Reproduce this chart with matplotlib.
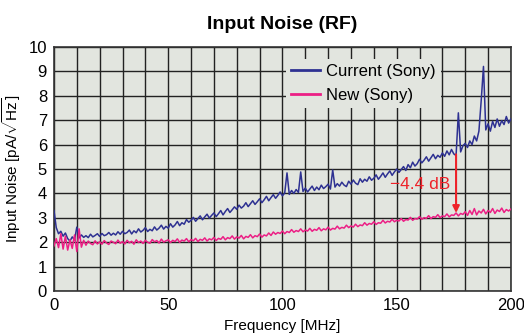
import numpy as np
import matplotlib
matplotlib.use("Agg")
import matplotlib.pyplot as plt

plt.rcParams['font.family'] = ['Liberation Sans', 'DejaVu Sans']
plt.rcParams['mathtext.fontset'] = 'custom'
plt.rcParams['mathtext.rm'] = 'Liberation Sans'

# frequency grid, 1 MHz steps (0..200)
freq = np.arange(0, 201)

current = [
    3.30, 2.60, 2.35, 2.45, 2.25, 2.38, 2.15, 2.05, 2.22, 2.10,
    2.62, 2.18, 2.30, 2.20, 2.27, 2.19, 2.33, 2.22, 2.28, 2.35,
    2.24, 2.36, 2.27, 2.31, 2.40, 2.29, 2.37, 2.30, 2.43, 2.33,
    2.45, 2.35, 2.40, 2.50, 2.34, 2.47, 2.39, 2.55, 2.42, 2.49,
    2.60, 2.44, 2.53, 2.47, 2.63, 2.50, 2.58, 2.70, 2.54, 2.65,
    2.58, 2.76, 2.62, 2.71, 2.85, 2.68, 2.80, 2.74, 2.93, 2.82,
    2.90, 3.02, 2.86, 2.97, 3.08, 2.92, 3.04, 3.15, 2.99, 3.10,
    3.20, 3.05, 3.17, 3.30, 3.12, 3.26, 3.38, 3.22, 3.33, 3.45,
    3.35, 3.52, 3.40, 3.48, 3.62, 3.46, 3.58, 3.70, 3.55, 3.66,
    3.78, 3.62, 3.74, 3.88, 3.70, 3.83, 3.95, 3.80, 3.92, 4.06,
    3.90, 4.02, 4.84, 3.96, 4.12, 4.00, 4.16, 4.04, 4.88, 4.08,
    4.22, 4.06, 4.18, 4.30, 4.12, 4.26, 4.15, 4.34, 4.20, 4.28,
    4.38, 4.18, 4.96, 4.26, 4.40, 4.30, 4.46, 4.34, 4.28, 4.50,
    4.38, 4.55, 4.42, 4.36, 4.60, 4.46, 4.58, 4.50, 4.68, 4.54,
    4.62, 4.76, 4.58, 4.70, 4.84, 4.66, 4.80, 4.92, 4.74, 4.88,
    5.00, 4.86, 4.98, 5.10, 4.94, 5.18, 5.05, 5.28, 5.12, 5.22,
    5.40, 5.25, 5.36, 5.50, 5.32, 5.46, 5.60, 5.42, 5.56, 5.48,
    5.66, 5.52, 5.74, 5.58, 5.80, 5.62, 5.55, 7.30, 5.70, 5.95,
    6.05, 5.88, 6.15, 6.00, 6.35, 6.15, 6.55, 7.80, 9.20, 6.60,
    6.85, 6.55, 6.95, 6.70, 7.05, 6.75, 6.98, 6.82, 7.15, 6.88,
    7.05,
]

new = [
    1.85, 2.15, 1.78, 2.35, 1.72, 2.25, 1.68, 2.10, 1.75, 2.30,
    1.62, 2.55, 1.80, 2.08, 1.88, 2.05, 1.95, 1.90, 2.06, 1.93,
    2.02, 1.92, 2.07, 1.97, 1.91, 2.05, 2.00, 1.94, 2.09, 1.96,
    2.03, 1.93, 2.08, 1.98, 2.04, 1.92, 2.10, 1.99, 2.05, 1.95,
    2.08, 2.00, 1.96, 2.11, 2.02, 2.07, 1.97, 2.13, 2.01, 2.06,
    2.10, 1.99, 2.08, 2.03, 2.14, 2.00, 2.09, 2.05, 2.15, 2.02,
    2.11, 2.06, 2.16, 2.03, 2.12, 2.08, 2.18, 2.05, 2.14, 2.10,
    2.20, 2.07, 2.16, 2.12, 2.23, 2.10, 2.19, 2.15, 2.26, 2.13,
    2.22, 2.17, 2.28, 2.14, 2.24, 2.20, 2.31, 2.18, 2.27, 2.23,
    2.34, 2.21, 2.30, 2.26, 2.38, 2.28, 2.42, 2.33, 2.40, 2.36,
    2.46, 2.35, 2.44, 2.40, 2.52, 2.41, 2.48, 2.44, 2.55, 2.43,
    2.50, 2.46, 2.57, 2.45, 2.53, 2.49, 2.60, 2.47, 2.55, 2.51,
    2.62, 2.50, 2.57, 2.54, 2.66, 2.55, 2.61, 2.58, 2.70, 2.60,
    2.67, 2.62, 2.74, 2.64, 2.71, 2.68, 2.80, 2.70, 2.77, 2.74,
    2.84, 2.73, 2.80, 2.78, 2.90, 2.79, 2.86, 2.83, 2.94, 2.84,
    2.90, 2.87, 2.97, 2.86, 2.93, 2.91, 3.02, 2.90, 2.97, 2.95,
    3.05, 2.94, 3.01, 2.98, 3.09, 2.97, 3.05, 3.02, 3.13, 3.01,
    3.08, 3.05, 3.16, 3.04, 3.12, 3.10, 3.20, 3.08, 3.18, 3.14,
    3.25, 3.10, 3.30, 3.14, 3.38, 3.12, 3.28, 3.20, 3.35, 3.16,
    3.30, 3.22, 3.38, 3.18, 3.32, 3.26, 3.40, 3.22, 3.34, 3.28,
    3.36,
]

# arrow marking the improvement at ~176 MHz
arrow_f = 176
arrow_from = 5.6
arrow_to = 3.2

fig = plt.figure(figsize=(5.24, 3.35), dpi=100)
ax = fig.add_axes([0.103, 0.131, 0.872, 0.729])
ax.set_facecolor('#e2e5df')

ax.plot(freq, current, color='#2e3192', lw=1.1, label='Current (Sony)', zorder=3)
ax.plot(freq, new, color='#ec1f85', lw=1.1, label='New (Sony)', zorder=3)

ax.annotate('', xy=(arrow_f, arrow_to), xytext=(arrow_f, arrow_from),
            arrowprops=dict(arrowstyle='-|>', color='#ee2229', lw=1.5,
                            mutation_scale=10, shrinkA=0, shrinkB=0), zorder=4)
ax.text(arrow_f - 2.5, 4.35, '\u22124.4 dB', color='#ee2229', fontsize=12.5,
        ha='right', va='center', zorder=4)

ax.set_xlim(0, 200)
ax.set_ylim(0, 10)
ax.set_xticks([0, 50, 100, 150, 200])
ax.set_xticks(np.arange(0, 201, 10), minor=True)
ax.set_yticks(np.arange(0, 11, 1))
ax.grid(True, which='both', color='#222222', lw=1.0, zorder=1)
ax.set_axisbelow(True)
ax.tick_params(which='both', length=0, labelsize=12, pad=5)
for s in ax.spines.values():
    s.set_color('#333333')
    s.set_linewidth(1.2)

ax.set_title('Input Noise (RF)', fontsize=14, fontweight='bold', pad=13)
ax.set_xlabel('Frequency [MHz]', fontsize=11, labelpad=4)
ax.set_ylabel(r'Input Noise [pA/$\sqrt{\mathrm{Hz}}$]', fontsize=11, labelpad=4)

leg = ax.legend(loc='upper left', bbox_to_anchor=(0.49, 0.985), fontsize=12,
                frameon=True, facecolor='#e2e5df', edgecolor='none', framealpha=1,
                handlelength=1.7, handletextpad=0.4, borderpad=0.3,
                labelspacing=0.55, fancybox=False)
for line in leg.get_lines():
    line.set_linewidth(2)

fig.savefig('out.png', dpi=100)
